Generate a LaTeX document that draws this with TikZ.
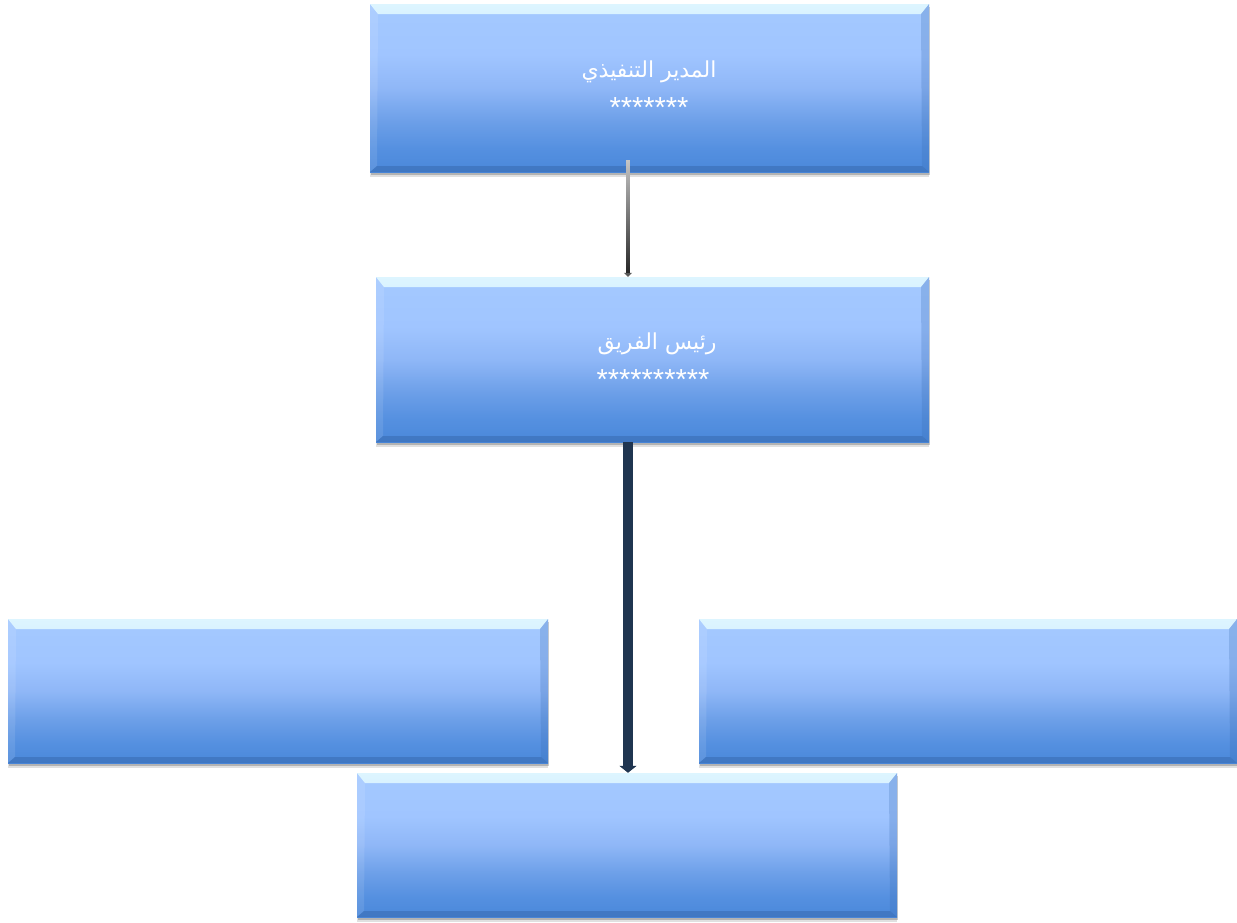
\documentclass[tikz,border=0pt]{standalone}
\usepackage{fontspec}
\setmainfont{Liberation Sans}
\newfontfamily\arabicfont[Script=Arabic]{DejaVu Sans}
\TeXXeTstate=1
\usetikzlibrary{arrows.meta,shadows,calc}
\definecolor{bbot}{HTML}{4A88DA}
\definecolor{bq}{HTML}{5590E0}
\definecolor{bmidb}{HTML}{6C9FE8}
\definecolor{bmid}{HTML}{8FB7F7}
\definecolor{btopb}{HTML}{A0C5FF}
\definecolor{btop}{HTML}{A4C9FF}
\definecolor{bevhi}{HTML}{DDF5FF}
\definecolor{bevlo}{HTML}{A8CCFF}
\definecolor{bevdark}{HTML}{3A6DB3}
\definecolor{navy}{HTML}{1F3550}
\pgfdeclareverticalshading{bevfill}{100bp}{color(0bp)=(bbot); color(25bp)=(bbot); color(32bp)=(bq); color(40bp)=(bmidb); color(50bp)=(bmid); color(60bp)=(btopb); color(75bp)=(btop); color(100bp)=(btop)}
\tikzset{
  bevbox/.style={rectangle, inner sep=0pt, shading=bevfill,
    drop shadow={shadow xshift=0pt, shadow yshift=-5pt, opacity=0.12, fill=black},
    drop shadow={shadow xshift=1pt, shadow yshift=-3pt, opacity=0.2, fill=black},
    path picture={
      \shade[top color=bevhi, bottom color=bevlo]
        (path picture bounding box.north west) -- (path picture bounding box.north east)
        -- ([xshift=-8pt,yshift=-10pt]path picture bounding box.north east)
        -- ([xshift=8pt,yshift=-10pt]path picture bounding box.north west) -- cycle;
      \fill[white, opacity=0.1]
        (path picture bounding box.north west) -- ([xshift=8pt,yshift=-10pt]path picture bounding box.north west)
        -- ([xshift=7pt,yshift=6pt]path picture bounding box.south west)
        -- (path picture bounding box.south west) -- cycle;
      \fill[bevdark, opacity=0.25]
        (path picture bounding box.north east) -- ([xshift=-8pt,yshift=-10pt]path picture bounding box.north east)
        -- ([xshift=-7pt,yshift=6pt]path picture bounding box.south east)
        -- (path picture bounding box.south east) -- cycle;
      \fill[bevdark, opacity=0.6]
        (path picture bounding box.south west) -- ([xshift=7pt,yshift=6pt]path picture bounding box.south west)
        -- ([xshift=-7pt,yshift=6pt]path picture bounding box.south east)
        -- (path picture bounding box.south east) -- cycle;
    }},
  artxt/.style={text=white, anchor=base, inner sep=0pt, font=\arabicfont\fontsize{22}{26}\selectfont},
  startxt/.style={text=white, anchor=base, inner sep=0pt, font=\fontsize{29}{32}\selectfont},
  thinconn/.style={line width=3.6pt, draw=gray!70!black, -{Triangle[width=8pt,length=4pt]}},
  thickconn/.style={line width=10pt, draw=navy, -{Triangle[width=17pt,length=7pt]}}
}
\begin{document}
\begin{tikzpicture}[x=1pt,y=-1pt]
\useasboundingbox[fill=white] (0,0) rectangle (1237,922);
% boxes
\node[bevbox, minimum width=559pt, minimum height=168pt] (ceo) at (649.5,88) {};
\node[bevbox, minimum width=553pt, minimum height=165pt] (lead) at (652.5,359.5) {};
\node[bevbox, minimum width=540pt, minimum height=144pt] (left) at (278,691) {};
\node[bevbox, minimum width=538pt, minimum height=144pt] (right) at (968,691) {};
% connector 1
\coordinate (j1) at (628,160);
\draw[thinconn] (j1) -- (j1 |- lead.north);
\shade[top color=gray!45, bottom color=black!85]
  ([xshift=-1.8pt]j1) rectangle ([xshift=1.8pt,yshift=4pt]j1 |- lead.north);
% connector 2
\coordinate (j2) at (628,442);
\node[bevbox, minimum width=540pt, minimum height=144pt] (sub) at (627,845) {};
\draw[thickconn] (j2) -- (j2 |- sub.north);
% texts
\node[artxt] (ceo-title) at (649,77) {\beginR المدير التنفيذي\endR};
\node[startxt] (ceo-name) at (649,117) {*******};
\node[artxt] (lead-title) at (657,349) {\beginR رئيس الفريق\endR};
\node[startxt] (lead-name) at (653,389) {**********};
\end{tikzpicture}
\end{document}
